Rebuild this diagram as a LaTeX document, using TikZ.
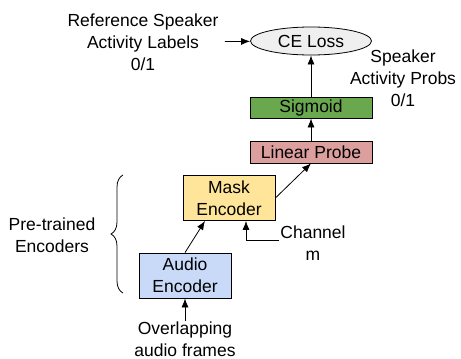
\documentclass[tikz,border=0pt]{standalone}
\usepackage{fontspec}
\setmainfont{Liberation Sans}
\usetikzlibrary{shapes.geometric,decorations.pathreplacing,arrows.meta}

\definecolor{lossgray}{HTML}{EFEFEF}
\definecolor{siggreen}{HTML}{6AA84F}
\definecolor{probepink}{HTML}{DD9E9E}
\definecolor{maskyellow}{HTML}{FFE599}
\definecolor{audioblue}{HTML}{C9DAF8}

\tikzset{
	blockbox/.style={draw, thick, minimum width=122pt, inner sep=0pt, align=center},
	encbox/.style={draw, thick, minimum width=92pt, minimum height=45pt, inner sep=0pt, align=center},
	txt/.style={align=center, inner sep=0pt}
}

\begin{document}
\begin{tikzpicture}[x=1pt, y=-1pt, font=\fontsize{17.5}{22}\selectfont, >={Latex[length=9pt,width=7pt]}, thick]
	\useasboundingbox (0,0) rectangle (461,359);
	% model blocks
	\node[draw, thick, ellipse, fill=lossgray, minimum width=121pt, minimum height=28pt, inner sep=0pt] (loss) at (311,41) {CE Loss};
	\node[blockbox, fill=siggreen, minimum height=21pt] (sig) at (311,107.5) {Sigmoid};
	\node[blockbox, fill=probepink, minimum height=22pt] (probe) at (311,152) {Linear Probe};
	\node[encbox, fill=maskyellow] (mask) at (229,198) {Mask\\Encoder};
	\node[encbox, fill=audioblue] (audio) at (185,275.5) {Audio\\Encoder};
	% text labels
	\node[txt] (ref) at (143,42) {Reference Speaker\\Activity Labels\\0/1};
	\node[txt] (probs) at (403,78) {Speaker\\Activity Probs\\0/1};
	\node[txt] (frames) at (185,339) {Overlapping\\audio frames};
	\node[txt] (chan) at (313,243) {Channel\\m};
	\node[txt] (pre) at (52,235) {Pre-trained\\Encoders};
	\coordinate (chanin) at (279,240);
	% connectors
	\draw[->, shorten <=6pt] (ref) -- (loss);
	\draw[->] (sig) -- (loss);
	\draw[->] (probe) -- (sig);
	\draw[->] (mask.east) -- (probe.south);
	\draw[->] (audio.north) -- ([xshift=-24pt]mask.south);
	\draw[->] (chanin) -| ([xshift=17pt]mask.south);
	\draw[->] (frames) -- (audio);
	\draw[decorate, decoration={brace, amplitude=12pt}] (123,293) -- (123,175);
\end{tikzpicture}
\end{document}
